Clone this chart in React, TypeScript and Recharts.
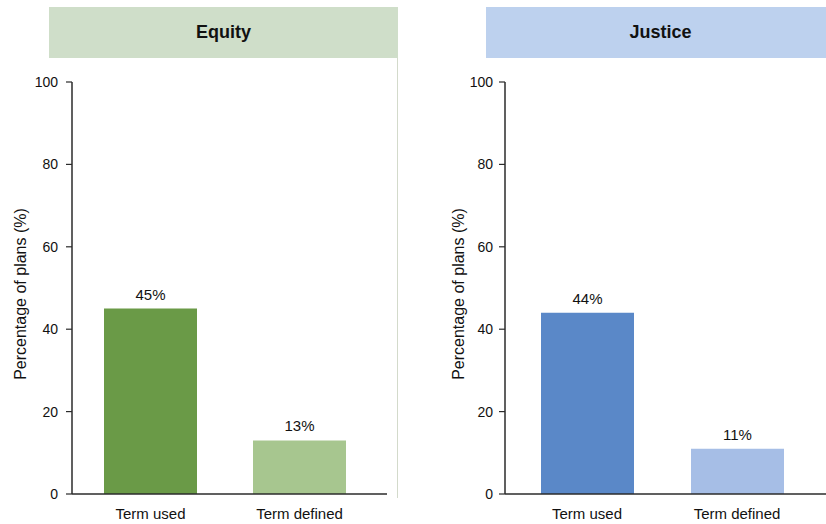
import { Bar, BarChart, Cell, LabelList, XAxis, YAxis } from 'recharts';

const categories = ['Term used', 'Term defined'];
const equityValues = [45, 13];
const justiceValues = [44, 11];
const yTicks = [0, 20, 40, 60, 80, 100];

const equityColors = ['#6a9a47', '#a7c68f'];
const justiceColors = ['#5a88c8', '#a6bee6'];

const FONT = '"Liberation Sans", Arial, sans-serif';
const AXIS = '#2b2b2b';

type PanelProps = {
  values: number[];
  colors: string[];
  left: number;
  width: number;
  yAxisWidth: number;
  marginRight: number;
  padding: { left: number; right: number };
  tickMargin: number;
  titleX: number;
};

function AxisTitle({ viewBox, titleX }: any) {
  const cy = viewBox.y + viewBox.height / 2 + 6;
  return (
    <text
      x={titleX}
      y={cy}
      transform={`rotate(-90 ${titleX} ${cy})`}
      textAnchor="middle"
      dominantBaseline="central"
      fontSize={16}
      fill="#111"
      fontFamily={FONT}
    >
      Percentage of plans (%)
    </text>
  );
}

function Panel({ values, colors, left, width, yAxisWidth, marginRight, padding, tickMargin, titleX }: PanelProps) {
  const data = categories.map((name, i) => ({ name, value: values[i] }));
  return (
    <div style={{ position: 'absolute', left, top: 0 }}>
      <BarChart
        width={width}
        height={524}
        data={data}
        margin={{ top: 82, right: marginRight, bottom: 0, left: 0 }}
        barSize={93}
      >
        <XAxis
          dataKey="name"
          height={30}
          padding={padding}
          tickLine={false}
          tickMargin={8}
          axisLine={{ stroke: AXIS, strokeWidth: 1.5 }}
          tick={{ fill: '#111', fontSize: 15, fontFamily: FONT }}
        />
        <YAxis
          width={yAxisWidth}
          domain={[0, 100]}
          ticks={yTicks}
          interval={0}
          tickSize={6}
          tickMargin={tickMargin}
          axisLine={{ stroke: AXIS, strokeWidth: 1.5 }}
          tickLine={{ stroke: AXIS, strokeWidth: 1.2 }}
          tick={{ fill: '#111', fontSize: 14, fontFamily: FONT }}
          label={{ content: (p: any) => <AxisTitle {...p} titleX={titleX} /> }}
        />
        <Bar dataKey="value" isAnimationActive={false}>
          {data.map((d, i) => (
            <Cell key={d.name} fill={colors[i]} />
          ))}
          <LabelList
            dataKey="value"
            position="top"
            offset={9}
            formatter={(v: any) => `${v}%`}
            style={{ fill: '#111', fontSize: 15, fontFamily: FONT }}
          />
        </Bar>
      </BarChart>
    </div>
  );
}

function Header({ title, left, background }: { title: string; left: number; background: string }) {
  return (
    <div
      style={{
        position: 'absolute',
        left,
        top: 7,
        width: 349,
        height: 51,
        background,
        display: 'flex',
        alignItems: 'center',
        justifyContent: 'center',
        fontFamily: FONT,
        fontWeight: 'bold',
        fontSize: 18,
        color: '#111',
      }}
    >
      {title}
    </div>
  );
}

export default function App() {
  return (
    <div
      style={{
        position: 'fixed',
        left: 0,
        top: 0,
        width: 826,
        height: 524,
        overflow: 'hidden',
        background: '#fff',
      }}
    >
      <Header title="Equity" left={49} background="#cfdec9" />
      <Header title="Justice" left={486} background="#bdd1ee" />
      {/* right edge of the equity panel */}
      <div style={{ position: 'absolute', left: 397, top: 58, width: 1, height: 440, background: '#d3dacb' }} />
      <Panel
        values={equityValues}
        colors={equityColors}
        left={0}
        width={400}
        yAxisWidth={72}
        marginRight={13}
        padding={{ left: 4, right: 13 }}
        tickMargin={8}
        titleX={20}
      />
      <Panel
        values={justiceValues}
        colors={justiceColors}
        left={420}
        width={406}
        yAxisWidth={85}
        marginRight={0}
        padding={{ left: 7, right: 14 }}
        tickMargin={6}
        titleX={38}
      />
    </div>
  );
}
